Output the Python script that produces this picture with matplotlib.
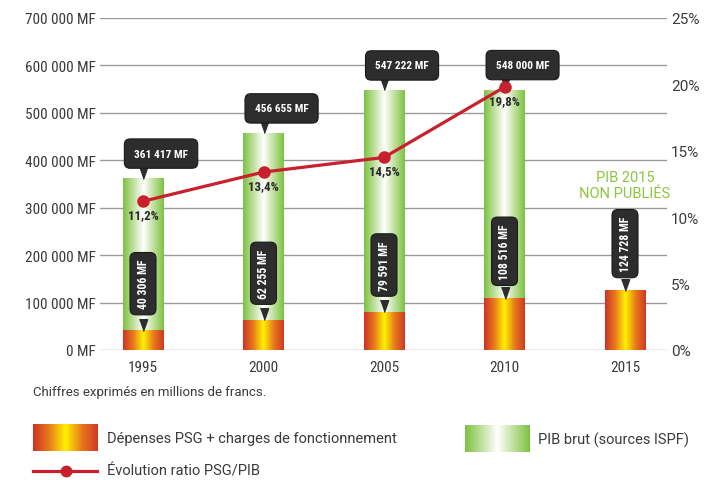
import numpy as np
import matplotlib
matplotlib.use("Agg")
import matplotlib.pyplot as plt
from matplotlib.colors import LinearSegmentedColormap
from matplotlib.lines import Line2D

plt.rcParams['font.family'] = ['Roboto', 'DejaVu Sans']
COND = ['Roboto Condensed', 'Roboto', 'DejaVu Sans']

years = ['1995', '2000', '2005', '2010', '2015']
pib = [361417, 456655, 547222, 548000]
pib_labels = ['361 417 MF', '456 655 MF', '547 222 MF', '548 000 MF']
depenses = [40306, 62255, 79591, 108516, 124728]
dep_labels = ['40 306 MF', '62 255 MF', '79 591 MF', '108 516 MF', '124 728 MF']
ratio = [11.2, 13.4, 14.5, 19.8]
ratio_labels = ['11,2%', '13,4%', '14,5%', '19,8%']
left_ticks = [0, 100000, 200000, 300000, 400000, 500000, 600000, 700000]
left_ticklabels = ['0 MF', '100 000 MF', '200 000 MF', '300 000 MF',
                   '400 000 MF', '500 000 MF', '600 000 MF', '700 000 MF']
right_ticks = [0, 5, 10, 15, 20, 25]
right_ticklabels = ['0%', '5%', '10%', '15%', '20%', '25%']

orange_cmap = LinearSegmentedColormap.from_list(
    'psg', ['#cf3224', '#e77a1c', '#fff200', '#e77a1c', '#cf3a24'])
green_cmap = LinearSegmentedColormap.from_list(
    'pib', ['#7cc242', '#bfe09c', '#ffffff', '#bfe09c', '#7cc242'])
grad = np.linspace(0, 1, 256).reshape(1, -1)

dark = '#2d2d2d'
txt = '#3a3a3a'
red = '#c9202e'
pointer = [(-0.35, 1.0), (0.35, 1.0), (0.0, 0.0)]

fig = plt.figure(figsize=(7.05, 4.81), dpi=100)
ax = fig.add_axes([100 / 705, 1 - 351 / 481, 567 / 705, 332 / 481])
w = 0.34
x = np.arange(len(years))

# bars drawn as gradient images
for i, v in enumerate(pib):
    ax.imshow(grad, cmap=green_cmap, aspect='auto', zorder=2,
              extent=(x[i] - w / 2, x[i] + w / 2, 0, v))
for i, v in enumerate(depenses):
    ax.imshow(grad, cmap=orange_cmap, aspect='auto', zorder=3,
              extent=(x[i] - w / 2, x[i] + w / 2, 0, v))

# callouts on PIB bars
for i, v in enumerate(pib):
    ax.plot(x[i], v, marker=pointer, ms=17, color=dark, zorder=5)
    ax.annotate(pib_labels[i], xy=(x[i], v), xytext=(13, 18),
                textcoords='offset points', ha='center', va='center',
                fontsize=8.2, fontweight='bold', color='white', zorder=6,
                family=COND,
                bbox=dict(boxstyle='round,pad=0.85,rounding_size=0.5',
                          fc=dark, ec='#1a1a1a', lw=0.8))

# callouts on depenses bars
for i, v in enumerate(depenses):
    ax.plot(x[i], v, marker=pointer, ms=17, color=dark, zorder=5)
    ax.annotate(dep_labels[i], xy=(x[i], v), xytext=(0, 34),
                textcoords='offset points', ha='center', va='center',
                rotation=90, fontsize=8.5, fontweight='bold', color='white',
                zorder=6, family=COND,
                bbox=dict(boxstyle='round,pad=0.55,rounding_size=0.5',
                          fc=dark, ec='#1a1a1a', lw=0.8))

ax.set_xlim(-43 / 120.5, 524 / 120.5)
ax.set_ylim(0, 700000)
ax.set_yticks(left_ticks)
ax.set_yticklabels(left_ticklabels, family=COND)
ax.set_xticks(x)
ax.set_xticklabels(years, family=COND)
ax.grid(axis='y', color='#9a9a9a', lw=1)
ax.set_axisbelow(True)
ax.tick_params(axis='y', length=0, pad=3, labelsize=11, labelcolor=txt)
ax.tick_params(axis='x', length=0, pad=7, labelsize=11, labelcolor=txt)
for s in ax.spines.values():
    s.set_visible(False)

ax.text(x[4], 348000, 'PIB 2015\nNON PUBLIÉS', ha='center',
        va='center', fontsize=10.5, color='#8cc63f', linespacing=1.15)

# ratio line
ax2 = ax.twinx()
ax2.set_ylim(0, 25)
ax2.set_yticks(right_ticks)
ax2.set_yticklabels(right_ticklabels)
ax2.tick_params(axis='y', length=0, pad=3, labelsize=11, labelcolor=txt)
for s in ax2.spines.values():
    s.set_visible(False)
ax2.plot(x[:4], ratio, color=red, lw=2.3, marker='o', ms=8, zorder=4)
for i, r in enumerate(ratio):
    ax2.annotate(ratio_labels[i], xy=(x[i], r), xytext=(0, -9.5),
                 textcoords='offset points', ha='center', va='center',
                 fontsize=9.3, fontweight='bold', color='#2a2a2a', family=COND)

# footnote and legend
fig.text(33 / 705, 1 - 393 / 481, 'Chiffres exprimés en millions de francs.',
         fontsize=9.5, color=txt, va='center')

lax = fig.add_axes([33 / 705, 1 - 452 / 481, 65 / 705, 27 / 481])
lax.imshow(grad, cmap=orange_cmap, aspect='auto')
lax.axis('off')
fig.text(107 / 705, 1 - 439 / 481, 'Dépenses PSG + charges de fonctionnement',
         fontsize=10.5, color=txt, va='center')

gax = fig.add_axes([465 / 705, 1 - 453 / 481, 64 / 705, 27 / 481])
gax.imshow(grad, cmap=green_cmap, aspect='auto')
gax.axis('off')
fig.text(538 / 705, 1 - 440 / 481, 'PIB brut (sources ISPF)',
         fontsize=10.5, color=txt, va='center')

ly = 1 - 472 / 481
fig.add_artist(Line2D([33 / 705, 97 / 705], [ly, ly], transform=fig.transFigure,
                      color=red, lw=2.3))
fig.add_artist(Line2D([66 / 705], [ly], transform=fig.transFigure,
                      color=red, marker='o', ms=7.5))
fig.text(107 / 705, ly, 'Évolution ratio PSG/PIB',
         fontsize=10.5, color=txt, va='center')

fig.savefig('out.png', dpi=100)
